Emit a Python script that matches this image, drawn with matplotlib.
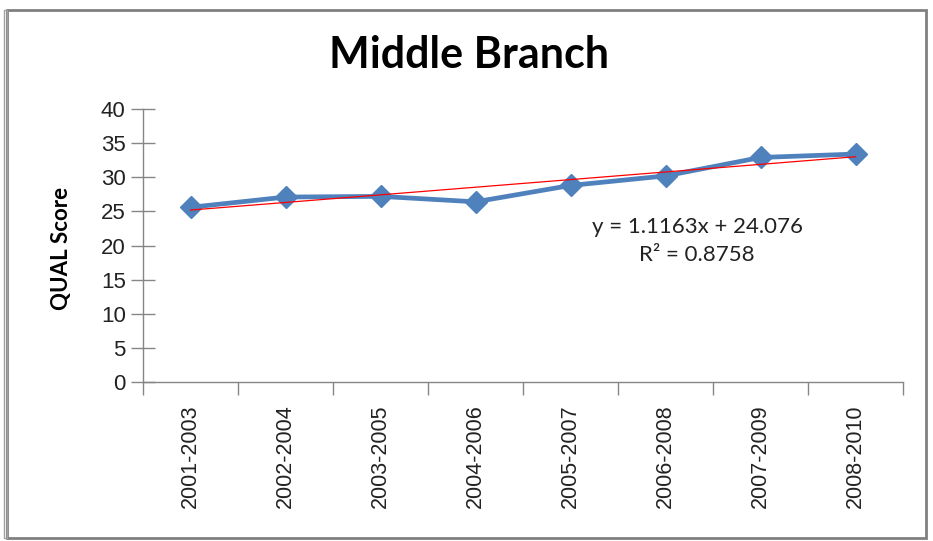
import matplotlib
matplotlib.use("Agg")
import matplotlib.pyplot as plt
from matplotlib.patches import Rectangle

# data
periods = ["2001-2003", "2002-2004", "2003-2005", "2004-2006",
           "2005-2007", "2006-2008", "2007-2009", "2008-2010"]
qual = [25.6, 27.1, 27.2, 26.4, 28.8, 30.2, 32.9, 33.4]
trend_slope = 1.1163
trend_icpt = 24.076
trend_r2 = 0.8758
yticks = [0, 5, 10, 15, 20, 25, 30, 35, 40]

blue = "#4F81BD"
gray = "#868686"

fig = plt.figure(figsize=(9.33, 5.41), dpi=100)
ax = fig.add_axes([0.1533, 0.2939, 0.8146, 0.5046])

xs = list(range(1, len(periods) + 1))
ax.plot(xs, qual, color=blue, lw=3.4, marker="D", ms=11, mec=blue, mfc=blue, zorder=3)

tx = [xs[0], xs[-1]]
ty = [trend_slope * x + trend_icpt for x in tx]
ax.plot(tx, ty, color="#FF0000", lw=0.9, zorder=4)

ax.set_xlim(0.5, len(periods) + 0.5)
ax.set_ylim(0, 40)
ax.set_yticks(yticks)
ax.set_xticks(xs)
ax.set_xticklabels(periods, rotation=90, fontsize=15.5, family="Liberation Sans", color="#222222")
ax.set_xticks([x + 0.5 for x in [0] + xs], minor=True)
ax.tick_params(axis="x", which="major", length=0, pad=16)
ax.tick_params(axis="x", which="minor", length=9, width=1, color=gray, direction="out")
ax.tick_params(axis="y", length=17, width=1, color=gray, direction="inout", pad=4,
               labelsize=16, labelcolor="#222222")
for lab in ax.get_yticklabels():
    lab.set_family("Liberation Sans")

for s in ["top", "right"]:
    ax.spines[s].set_visible(False)
for s in ["left", "bottom"]:
    ax.spines[s].set_color(gray)
    ax.spines[s].set_linewidth(1)

ax.set_ylabel("QUAL Score", family="Lato", weight="bold", fontsize=16)
ax.yaxis.set_label_coords(-0.094, 0.49)

fig.text(0.503, 0.899, "Middle Branch", ha="center", va="center",
         family="Lato", weight="bold", fontsize=31)
ax.text(0.729, 0.568, "y = 1.1163x + 24.076", transform=ax.transAxes,
        ha="center", va="center", family="Lato", fontsize=16, color="#222222")
ax.text(0.729, 0.465, "R\u00b2 = %.4f" % trend_r2, transform=ax.transAxes,
        ha="center", va="center", family="Lato", fontsize=16, color="#222222")

# outer chart frame
fig.patches.append(Rectangle((0.008, 0.006), 0.985, 0.976, transform=fig.transFigure,
                             fill=False, edgecolor="#808080", lw=2))
fig.patches.append(Rectangle((0.004, 0.006), 0.004, 0.976, transform=fig.transFigure,
                             fill=False, edgecolor="#a0a0a0", lw=1))

fig.savefig("out.png", dpi=100)
